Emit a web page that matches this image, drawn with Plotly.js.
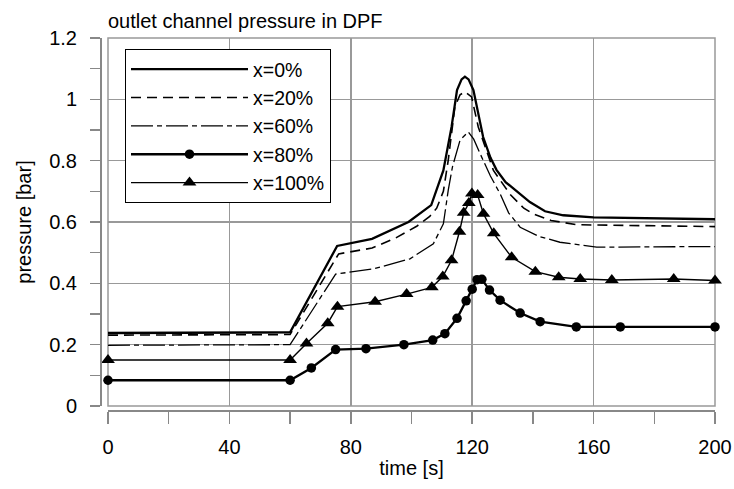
<!DOCTYPE html>
<html>
<head>
<meta charset="utf-8">
<script src="https://cdn.plot.ly/plotly-3.0.1.min.js"></script>
<style>html,body{margin:0;padding:0;background:#fff;}#chart{width:734px;height:489px;}</style>
</head>
<body>
<div id="chart"></div>
<script>
// x = 0%  (solid)
const t0 = [0, 60, 75.5, 87, 99, 106.5, 110.5, 113.2, 115, 116.5, 117.6, 118.8, 120.4, 122, 123.6, 126, 128, 131, 134.6, 139, 144, 150, 160, 200];
const p0 = [0.238, 0.24, 0.522, 0.545, 0.6, 0.655, 0.768, 0.91, 1.03, 1.065, 1.074, 1.065, 1.03, 0.95, 0.877, 0.81, 0.77, 0.73, 0.7, 0.665, 0.635, 0.622, 0.615, 0.609];
// x = 20% (dashed)
const t20 = [0, 60, 76, 87, 95, 101.7, 106, 108.3, 110.5, 112.1, 114.3, 116, 117.6, 119.8, 122, 124.9, 127, 132.5, 137, 140, 146, 154.4, 200];
const p20 = [0.231, 0.233, 0.496, 0.515, 0.549, 0.586, 0.618, 0.645, 0.7, 0.801, 0.976, 1.015, 1.025, 1.008, 0.91, 0.824, 0.768, 0.69, 0.645, 0.627, 0.605, 0.591, 0.585];
// x = 60% (dash-dot)
const t60 = [0, 60, 75, 87.4, 99.5, 107.2, 110.5, 112.1, 113.5, 116, 118.7, 120.5, 122.6, 126, 129.2, 132, 135.8, 142, 148.9, 161, 200];
const p60 = [0.198, 0.2, 0.43, 0.447, 0.48, 0.529, 0.594, 0.703, 0.78, 0.867, 0.894, 0.87, 0.823, 0.75, 0.692, 0.63, 0.583, 0.553, 0.534, 0.518, 0.52];
// x = 80% (circles)
const t80 = [0, 60, 67, 75, 85, 97.5, 107, 111, 115, 118, 120, 121.6, 123.2, 125.7, 129.2, 135.8, 142.4, 154.3, 168.8, 200];
const p80 = [0.084, 0.084, 0.124, 0.184, 0.187, 0.2, 0.215, 0.236, 0.286, 0.343, 0.381, 0.412, 0.413, 0.378, 0.345, 0.303, 0.275, 0.258, 0.258, 0.258];
// x = 100% (triangles)
const t100 = [0, 60, 65.4, 72.4, 75.6, 88, 98.4, 106.7, 110.3, 113.2, 115.8, 117.2, 118.9, 119.9, 121.8, 123.7, 127.1, 133, 140.8, 148.5, 155.6, 166, 186.4, 200];
const p100 = [0.15, 0.15, 0.204, 0.27, 0.324, 0.34, 0.365, 0.387, 0.422, 0.475, 0.568, 0.63, 0.662, 0.693, 0.688, 0.627, 0.563, 0.485, 0.438, 0.42, 0.414, 0.411, 0.414, 0.409];

const seriesNames = ['x=0%', 'x=20%', 'x=60%', 'x=80%', 'x=100%'];

const FONT = 'Liberation Sans, Arial, sans-serif';
const traces = [
  {x: t0, y: p0, name: seriesNames[0], mode: 'lines', line: {color: '#000', width: 2.3}},
  {x: t20, y: p20, name: seriesNames[1], mode: 'lines', line: {color: '#000', width: 1.6, dash: '10px,6px'}},
  {x: t60, y: p60, name: seriesNames[2], mode: 'lines', line: {color: '#000', width: 1.3, dash: '22px,4px,5px,4px'}},
  {x: t80, y: p80, name: seriesNames[3], mode: 'lines+markers', line: {color: '#000', width: 2.3}, marker: {symbol: 'circle', size: 9.5, color: '#000'}, cliponaxis: false},
  {x: t100, y: p100, name: seriesNames[4], mode: 'lines+markers', line: {color: '#000', width: 1.4}, marker: {symbol: 'triangle-up', size: 12, color: '#000'}, cliponaxis: false}
];

const L = 100, R = 19, T = 38, B = 79;
const pw = 734 - L - R, ph = 489 - T - B;

const layout = {
  width: 734, height: 489,
  margin: {l: L, r: R, t: T, b: B, pad: 0},
  paper_bgcolor: '#fff', plot_bgcolor: '#fff',
  font: {family: FONT, size: 20, color: '#000'},
  showlegend: true,
  title: {text: 'outlet channel pressure in DPF', font: {family: FONT, size: 20, color: '#000'},
          xref: 'paper', x: 8 / pw, xanchor: 'left', yref: 'container', y: 1 - 21 / 489, yanchor: 'middle'},
  xaxis: {
    domain: [8 / pw, 1], anchor: 'free', position: 0,
    range: [0, 200], tick0: 0, dtick: 40,
    showgrid: true, gridcolor: '#999', gridwidth: 1.5,
    showline: true, linecolor: '#888', linewidth: 1.5,
    ticks: 'outside', ticklen: 12, tickcolor: '#888', tickwidth: 1.5,
    minor: {dtick: 20, ticks: 'outside', ticklen: 12, tickcolor: '#888', tickwidth: 1.5, showgrid: false},
    zeroline: false, ticklabelstandoff: 6,
    tickfont: {family: FONT, size: 20, color: '#000'},
    title: {text: 'time [s]', font: {family: FONT, size: 20, color: '#000'}, standoff: 4}
  },
  yaxis: {
    domain: [4 / ph, 1], anchor: 'free', position: 0,
    range: [0, 1.2], tick0: 0, dtick: 0.2,
    showgrid: true, gridcolor: '#999', gridwidth: 1.5,
    showline: true, linecolor: '#888', linewidth: 1.5,
    ticks: 'outside', ticklen: 10, tickcolor: '#888', tickwidth: 1.5,
    minor: {dtick: 0.1, ticks: 'outside', ticklen: 10, tickcolor: '#888', tickwidth: 1.5, showgrid: false},
    zeroline: false, ticklabelstandoff: 9,
    tickfont: {family: FONT, size: 20, color: '#000'},
    title: {text: 'pressure [bar]', font: {family: FONT, size: 20, color: '#000'}, standoff: 10}
  },
  legend: {
    x: 25 / pw, xanchor: 'left', y: (ph - 11) / ph, yanchor: 'top',
    bgcolor: '#fff', bordercolor: '#000', borderwidth: 1,
    font: {family: FONT, size: 19.5, color: '#000'},
    itemwidth: 117, tracegroupgap: 0
  },
  shapes: [
    {type: 'rect', xref: 'x domain', yref: 'y domain', x0: 0, x1: 1, y0: 0, y1: 1,
     line: {color: '#999', width: 1.5}, layer: 'below'}
  ]
};

Plotly.newPlot('chart', traces, layout, {displayModeBar: false, staticPlot: true});
</script>
</body>
</html>
